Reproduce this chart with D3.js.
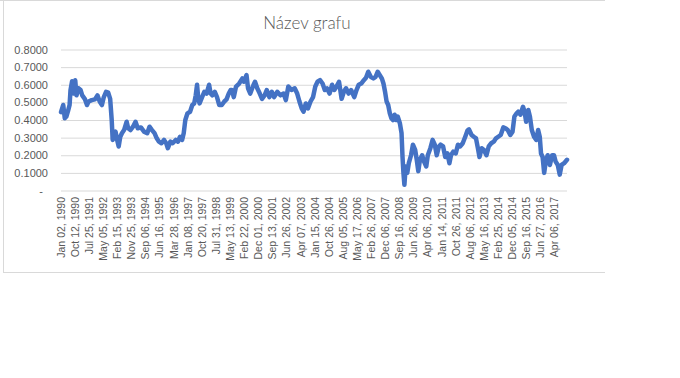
<!DOCTYPE html>
<html>
<head>
<meta charset="utf-8">
<script src="https://cdn.jsdelivr.net/npm/d3@7"></script>
<style>
  body { margin: 0; background: #fff; }
  svg { display: block; }
</style>
</head>
<body>
<div id="chart"></div>
<script>
// x-axis category labels (one every labelStep trading days)
const tickLabels = [
  "Jan 02, 1990", "Oct 12, 1990", "Jul 25, 1991", "May 05, 1992", "Feb 15, 1993",
  "Nov 25, 1993", "Sep 06, 1994", "Jun 16, 1995", "Mar 28, 1996", "Jan 08, 1997",
  "Oct 20, 1997", "Jul 31, 1998", "May 13, 1999", "Feb 22, 2000", "Dec 01, 2000",
  "Sep 13, 2001", "Jun 26, 2002", "Apr 07, 2003", "Jan 15, 2004", "Oct 26, 2004",
  "Aug 05, 2005", "May 17, 2006", "Feb 26, 2007", "Dec 06, 2007", "Sep 16, 2008",
  "Jun 26, 2009", "Apr 06, 2010", "Jan 14, 2011", "Oct 26, 2011", "Aug 06, 2012",
  "May 16, 2013", "Feb 25, 2014", "Dec 05, 2014", "Sep 16, 2015", "Jun 27, 2016",
  "Apr 06, 2017"
];
const labelStep = 202;
const lastDay = 7245;

const yTicks = [0, 0.1, 0.2, 0.3, 0.4, 0.5, 0.6, 0.7, 0.8];

// [trading day index, value]
const series = [
  [0, 0.445], [32, 0.485], [54, 0.41], [77, 0.42], [100, 0.45], [123, 0.485],
  [136, 0.57], [159, 0.62], [177, 0.55], [204, 0.625], [222, 0.54], [250, 0.58],
  [281, 0.57], [304, 0.54], [340, 0.52], [372, 0.485], [395, 0.505], [440, 0.513],
  [486, 0.517], [522, 0.54], [554, 0.505], [586, 0.485], [613, 0.53], [645, 0.56],
  [676, 0.555], [704, 0.52], [726, 0.40], [740, 0.287], [758, 0.305], [781, 0.334],
  [804, 0.287], [826, 0.25], [849, 0.305], [872, 0.325], [903, 0.343], [940, 0.39],
  [962, 0.353], [994, 0.343], [1031, 0.362], [1067, 0.39], [1099, 0.353], [1144, 0.358],
  [1189, 0.334], [1235, 0.325], [1267, 0.362], [1303, 0.343], [1339, 0.325], [1371, 0.296],
  [1403, 0.277], [1439, 0.268], [1475, 0.287], [1507, 0.268], [1530, 0.24], [1566, 0.277],
  [1598, 0.268], [1643, 0.287], [1675, 0.277], [1703, 0.305], [1734, 0.287], [1757, 0.325],
  [1780, 0.40], [1811, 0.438], [1848, 0.447], [1880, 0.485], [1907, 0.494], [1929, 0.54],
  [1948, 0.60], [1966, 0.52], [1984, 0.494], [2020, 0.53], [2052, 0.56], [2084, 0.55],
  [2120, 0.60], [2143, 0.55], [2166, 0.54], [2202, 0.56], [2234, 0.53], [2265, 0.485],
  [2302, 0.485], [2338, 0.505], [2370, 0.517], [2402, 0.55], [2429, 0.57], [2447, 0.57],
  [2474, 0.53], [2506, 0.59], [2551, 0.607], [2597, 0.636], [2619, 0.617], [2656, 0.655],
  [2678, 0.58], [2710, 0.55], [2747, 0.59], [2778, 0.617], [2810, 0.58], [2846, 0.55],
  [2878, 0.52], [2915, 0.54], [2946, 0.57], [2983, 0.53], [3019, 0.56], [3051, 0.53],
  [3096, 0.56], [3142, 0.54], [3187, 0.55], [3219, 0.513], [3255, 0.59], [3300, 0.57],
  [3346, 0.58], [3382, 0.55], [3414, 0.505], [3446, 0.466], [3473, 0.447], [3505, 0.494],
  [3536, 0.466], [3573, 0.505], [3609, 0.53], [3641, 0.59], [3673, 0.617], [3709, 0.626],
  [3745, 0.607], [3777, 0.57], [3809, 0.58], [3845, 0.55], [3882, 0.60], [3913, 0.57],
  [3945, 0.59], [3981, 0.617], [4018, 0.52], [4050, 0.56], [4081, 0.58], [4118, 0.55],
  [4154, 0.57], [4199, 0.53], [4231, 0.57], [4263, 0.60], [4299, 0.607], [4336, 0.626],
  [4367, 0.64], [4399, 0.674], [4435, 0.645], [4472, 0.636], [4504, 0.645], [4535, 0.674],
  [4563, 0.655], [4594, 0.636], [4617, 0.607], [4640, 0.56], [4662, 0.505], [4685, 0.485],
  [4708, 0.438], [4731, 0.41], [4753, 0.40], [4776, 0.43], [4799, 0.40], [4821, 0.42],
  [4853, 0.38], [4876, 0.325], [4890, 0.19], [4903, 0.10], [4917, 0.032], [4935, 0.136],
  [4958, 0.10], [4980, 0.155], [5012, 0.20], [5039, 0.26], [5071, 0.23], [5094, 0.174],
  [5116, 0.11], [5139, 0.174], [5171, 0.20], [5198, 0.164], [5230, 0.136], [5252, 0.20],
  [5289, 0.24], [5321, 0.287], [5352, 0.26], [5380, 0.20], [5411, 0.25], [5434, 0.26],
  [5471, 0.25], [5502, 0.19], [5534, 0.21], [5561, 0.155], [5584, 0.20], [5616, 0.22],
  [5652, 0.21], [5684, 0.26], [5716, 0.25], [5752, 0.268], [5788, 0.305], [5820, 0.34],
  [5842, 0.347], [5879, 0.315], [5911, 0.305], [5942, 0.296], [5969, 0.24], [5992, 0.19],
  [6024, 0.24], [6056, 0.23], [6092, 0.20], [6124, 0.25], [6160, 0.268], [6196, 0.277],
  [6228, 0.296], [6260, 0.305], [6296, 0.315], [6333, 0.358], [6365, 0.353], [6396, 0.343],
  [6433, 0.315], [6465, 0.334], [6492, 0.42], [6524, 0.438], [6546, 0.447], [6578, 0.43],
  [6615, 0.475], [6637, 0.447], [6660, 0.39], [6691, 0.457], [6714, 0.42], [6741, 0.343],
  [6773, 0.305], [6805, 0.287], [6832, 0.343], [6855, 0.305], [6873, 0.21], [6896, 0.19],
  [6918, 0.10], [6941, 0.164], [6968, 0.20], [7000, 0.145], [7032, 0.20], [7059, 0.20],
  [7082, 0.164], [7113, 0.145], [7141, 0.09], [7168, 0.145], [7204, 0.155], [7245, 0.174]
];

const W = 680, H = 378;
const margin = { top: 49.5, left: 61, right: 87, bottom: 187.5 };

const svg = d3.select("#chart").append("svg")
    .attr("width", W)
    .attr("height", H);

// Chart frame (Excel chart area border)
const frame = "#d9d9d9";
svg.append("line").attr("x1", 0).attr("x2", 605).attr("y1", 0.5).attr("y2", 0.5).attr("stroke", frame);
svg.append("line").attr("x1", 3.5).attr("x2", 3.5).attr("y1", 0).attr("y2", 273).attr("stroke", frame);
svg.append("line").attr("x1", 3).attr("x2", 605).attr("y1", 272.5).attr("y2", 272.5).attr("stroke", frame);

// Scales
const x = d3.scaleLinear().domain([0, lastDay]).range([margin.left, W - margin.right - 26]);
const y = d3.scaleLinear().domain([0, 0.8]).range([H - margin.bottom, margin.top]);

// Gridlines
svg.append("g")
    .attr("transform", `translate(${margin.left},0)`)
    .call(d3.axisLeft(y).tickValues(yTicks).tickSize(-(x.range()[1] - margin.left)).tickFormat(""))
    .call(g => g.select(".domain").remove())
    .call(g => g.selectAll("line").attr("stroke", "#d9d9d9").attr("stroke-width", 1));

// Y tick labels
svg.append("g")
    .attr("transform", `translate(${margin.left - 13},0)`)
    .call(d3.axisLeft(y).tickValues(yTicks).tickSize(0).tickPadding(0)
        .tickFormat(d => d === 0 ? "-" : d3.format(".4f")(d)))
    .call(g => g.select(".domain").remove())
    .call(g => g.selectAll("text")
        .attr("fill", "#595959")
        .style("font-family", "Liberation Sans, Arial, sans-serif")
        .style("font-size", "11px")
        .attr("dx", d => d === 0 ? -5 : 0));

// X tick labels
const labelDays = tickLabels.map((t, i) => i * labelStep);
svg.append("g")
    .selectAll("text")
    .data(tickLabels)
    .join("text")
    .attr("transform", (d, i) => `translate(${x(labelDays[i])},197) rotate(-90)`)
    .attr("dy", "0.35em")
    .attr("text-anchor", "end")
    .attr("fill", "#595959")
    .style("font-family", "Liberation Sans, Arial, sans-serif")
    .style("font-size", "10.5px")
    .text(d => d);

// Line
const line = d3.line()
    .x(d => x(d[0]))
    .y(d => y(d[1]));

svg.append("path")
    .datum(series)
    .attr("fill", "none")
    .attr("stroke", "#4472C4")
    .attr("stroke-width", 4.5)
    .attr("stroke-linejoin", "round")
    .attr("stroke-linecap", "round")
    .attr("d", line);

// Title
svg.append("text")
    .attr("x", 307)
    .attr("y", 29)
    .attr("text-anchor", "middle")
    .attr("fill", "#595959")
    .style("font-family", "Lato, sans-serif")
    .style("font-weight", 300)
    .style("font-size", "17px")
    .text("Název grafu");
</script>
</body>
</html>
